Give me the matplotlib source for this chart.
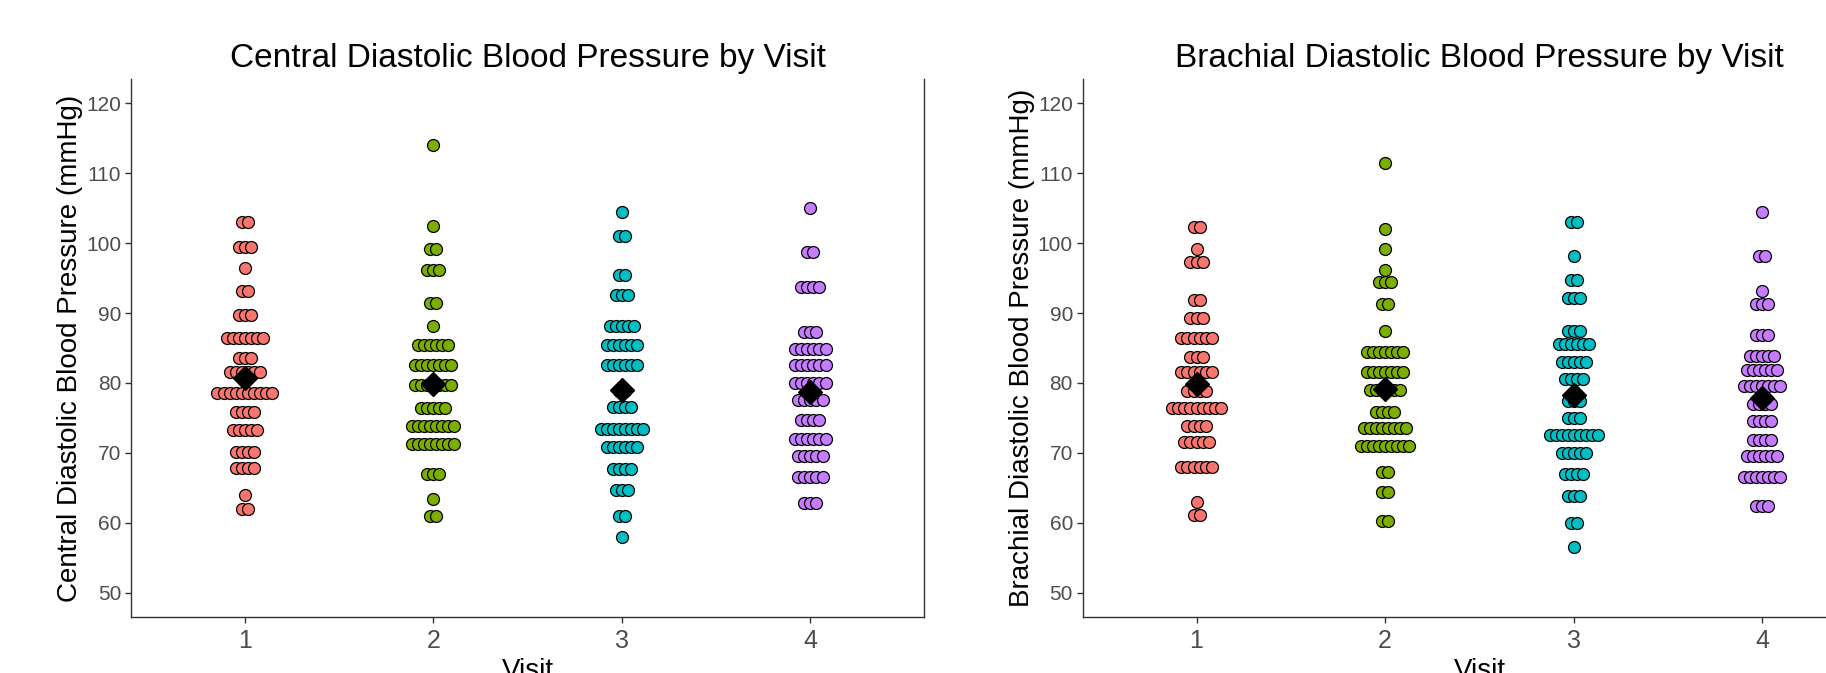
import numpy as np
import matplotlib
matplotlib.use("Agg")
import matplotlib.pyplot as plt

matplotlib.rcParams.update({
    "font.family": ["Liberation Sans", "DejaVu Sans"],
})

OUT = "out.png"

VISITS = [1, 2, 3, 4]
COLORS = ["#F8766D", "#7CAE00", "#00BFC4", "#C77CFF"]

# dot rows: bin level (mmHg) and number of dots stacked there
# central
c1_y = [103.0, 99.4, 96.4, 93.1, 89.7, 86.5, 83.6, 81.6, 78.6, 75.9, 73.2, 70.1, 67.8, 64.0, 62.0]
c1_n = [2, 3, 1, 2, 3, 7, 3, 6, 10, 4, 5, 4, 4, 1, 2]
c2_y = [114.0, 102.4, 99.1, 96.1, 91.5, 88.1, 85.5, 82.5, 79.7, 76.4, 73.9, 71.2, 67.0, 63.4, 61.0]
c2_n = [1, 1, 2, 3, 2, 1, 6, 7, 7, 5, 8, 8, 3, 1, 2]
c3_y = [104.4, 101.1, 95.5, 92.6, 88.1, 85.5, 82.5, 78.9, 76.5, 73.4, 70.9, 67.7, 64.7, 61.0, 58.0]
c3_n = [1, 2, 2, 3, 5, 6, 6, 2, 4, 8, 6, 4, 3, 2, 1]
c4_y = [105.0, 98.8, 93.7, 87.3, 84.9, 82.5, 80.0, 77.5, 74.7, 72.0, 69.6, 66.5, 62.8]
c4_n = [1, 2, 4, 3, 6, 6, 6, 5, 4, 6, 5, 5, 3]

# brachial
b1_y = [102.3, 99.1, 97.3, 91.8, 89.3, 86.5, 83.7, 81.6, 78.8, 76.4, 73.9, 71.5, 67.9, 63.0, 61.1]
b1_n = [2, 1, 3, 2, 3, 6, 3, 6, 4, 9, 4, 5, 6, 1, 2]
b2_y = [111.5, 102.1, 99.2, 96.2, 94.4, 91.3, 87.5, 84.5, 81.6, 79.0, 75.8, 73.5, 71.0, 67.2, 64.4, 60.2]
b2_n = [1, 1, 1, 1, 3, 2, 1, 7, 7, 6, 4, 8, 9, 2, 2, 2]
b3_y = [103.1, 98.1, 94.8, 92.1, 87.4, 85.6, 83.0, 80.5, 77.4, 75.0, 72.6, 70.0, 67.0, 63.8, 60.0, 56.5]
b3_n = [2, 1, 2, 3, 3, 6, 5, 4, 3, 3, 9, 5, 4, 3, 2, 1]
b4_y = [104.4, 98.1, 93.2, 91.3, 86.8, 83.9, 81.9, 79.5, 77.0, 74.6, 71.8, 69.5, 66.5, 62.4]
b4_n = [1, 2, 1, 3, 3, 5, 6, 7, 4, 4, 4, 6, 7, 3]

central = [(c1_y, c1_n), (c2_y, c2_n), (c3_y, c3_n), (c4_y, c4_n)]
brachial = [(b1_y, b1_n), (b2_y, b2_n), (b3_y, b3_n), (b4_y, b4_n)]

PITCH = 0.032   # horizontal step between stacked dots (x units)
AX_COL = "#333333"
TICK_COL = "#4D4D4D"


def dotplot(ax, groups, title, ylabel):
    for x, (ys, ns), col in zip(VISITS, groups, COLORS):
        for y, n in zip(ys, ns):
            offs = (np.arange(n) - (n - 1) / 2) * PITCH
            ax.plot(x + offs, np.full(n, y), "o", ls="none", ms=8.6,
                    mfc=col, mec="black", mew=0.9, zorder=2)
        # media como rombo negro
        mean = np.repeat(ys, ns).mean()
        ax.plot([x], [mean], "D", ms=12, color="black", zorder=4)

    ax.set_xlim(0.4, 4.6)
    ax.set_ylim(46.5, 123.5)
    ax.set_xticks(VISITS)
    ax.set_yticks(range(50, 121, 10))
    ax.tick_params(axis="y", labelsize=15, colors=TICK_COL, length=4.5,
                   width=1, pad=3, labelcolor=TICK_COL)
    ax.tick_params(axis="x", labelsize=18, colors=TICK_COL, length=4.5,
                   width=1, pad=4, labelcolor=TICK_COL)
    ax.tick_params(color=AX_COL)
    ax.set_title(title, fontsize=24, pad=8.5)
    ax.set_ylabel(ylabel, fontsize=20, labelpad=2)
    ax.set_xlabel("Visit", fontsize=20, labelpad=4)
    ax.spines["top"].set_visible(False)
    for s in ax.spines.values():
        s.set_color(AX_COL)
        s.set_linewidth(1.0)


fig = plt.figure(figsize=(18.26, 6.73), dpi=100)
ax1 = fig.add_axes([0.072, 0.0832, 0.4338, 0.7994])
ax2 = fig.add_axes([0.5933, 0.0832, 0.4338, 0.7994])

dotplot(ax1, central, "Central Diastolic Blood Pressure by Visit",
        "Central Diastolic Blood Pressure (mmHg)")
dotplot(ax2, brachial, "Brachial Diastolic Blood Pressure by Visit",
        "Brachial Diastolic Blood Pressure (mmHg)")
ax2.spines["right"].set_visible(False)

fig.savefig(OUT, dpi=100)
plt.close(fig)
